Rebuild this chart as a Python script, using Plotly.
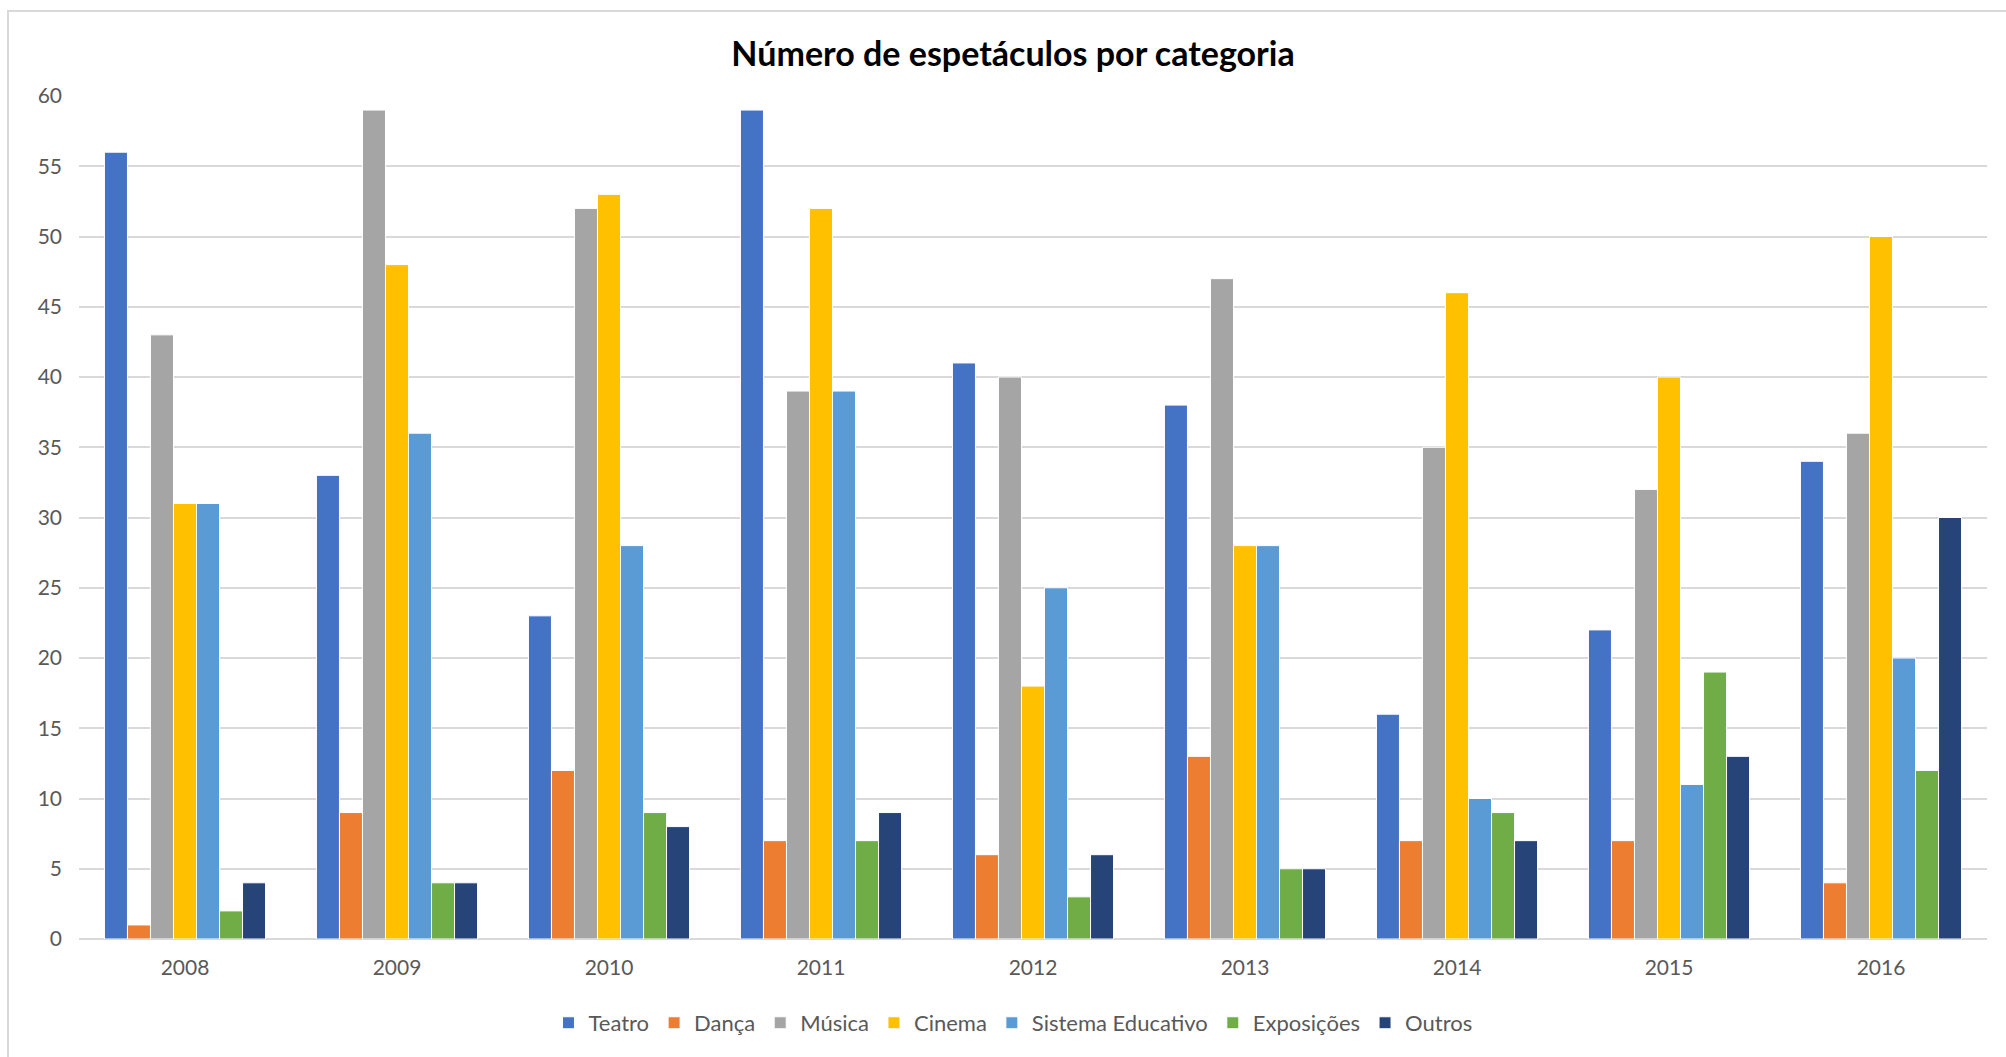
import plotly.graph_objects as go

years = ["2008", "2009", "2010", "2011", "2012", "2013", "2014", "2015", "2016"]
teatro = [56, 33, 23, 59, 41, 38, 16, 22, 34]
danca = [1, 9, 12, 7, 6, 13, 7, 7, 4]
musica = [43, 59, 52, 39, 40, 47, 35, 32, 36]
cinema = [31, 48, 53, 52, 18, 28, 46, 40, 50]
sistema = [31, 36, 28, 39, 25, 28, 10, 11, 20]
exposicoes = [2, 4, 9, 7, 3, 5, 9, 19, 12]
outros = [4, 4, 8, 9, 6, 5, 7, 13, 30]

series_names = ["Teatro", "Dança", "Música", "Cinema", "Sistema Educativo", "Exposições", "Outros"]
series_values = [teatro, danca, musica, cinema, sistema, exposicoes, outros]
colors = ["#4472C4", "#ED7D31", "#A5A5A5", "#FFC000", "#5B9BD5", "#70AD47", "#264478"]
y_ticks = [0, 5, 10, 15, 20, 25, 30, 35, 40, 45, 50, 55, 60]

FONT = "Lato"

fig = go.Figure()
for name, vals, col in zip(series_names, series_values, colors):
    fig.add_trace(go.Bar(
        x=years, y=vals, name=name,
        marker=dict(color=col, line=dict(color="white", width=1)),
    ))

fig.update_layout(
    width=2006, height=1057,
    paper_bgcolor="white", plot_bgcolor="white",
    margin=dict(l=79, r=19, t=96, b=118),
    barmode="group", bargap=0.24, bargroupgap=0,
    font=dict(family=FONT, size=21, color="#595959"),
    title=dict(
        text="<b>Número de espetáculos por categoria</b>",
        x=0.505, xref="container", xanchor="center",
        y=0.949, yref="container", yanchor="middle",
        font=dict(family=FONT, size=34, color="#000000"),
    ),
    xaxis=dict(showgrid=False, showline=False, ticks="", ticklabelstandoff=14,
               tickfont=dict(size=21, color="#595959")),
    yaxis=dict(range=[0, 60], tickvals=y_ticks, showgrid=True, gridcolor="#D9D9D9",
               gridwidth=1.5, zeroline=True, zerolinecolor="#D9D9D9", zerolinewidth=2,
               showline=False, ticks="", ticklabelstandoff=16,
               tickfont=dict(size=21, color="#595959")),
    legend=dict(orientation="h", x=0.4895, xanchor="center", y=-0.0996, yanchor="middle",
                font=dict(size=22, color="#595959"), itemwidth=30, traceorder="normal"),
    shapes=[dict(type="rect", xref="paper", yref="paper",
                 x0=-0.0372, x1=1.02, y0=-0.2, y1=1.1008,
                 line=dict(color="#D9D9D9", width=2), fillcolor="rgba(0,0,0,0)", layer="below")],
)

fig.write_html("out.html", config={"displayModeBar": False},
               post_script="document.body.style.margin='0';")
